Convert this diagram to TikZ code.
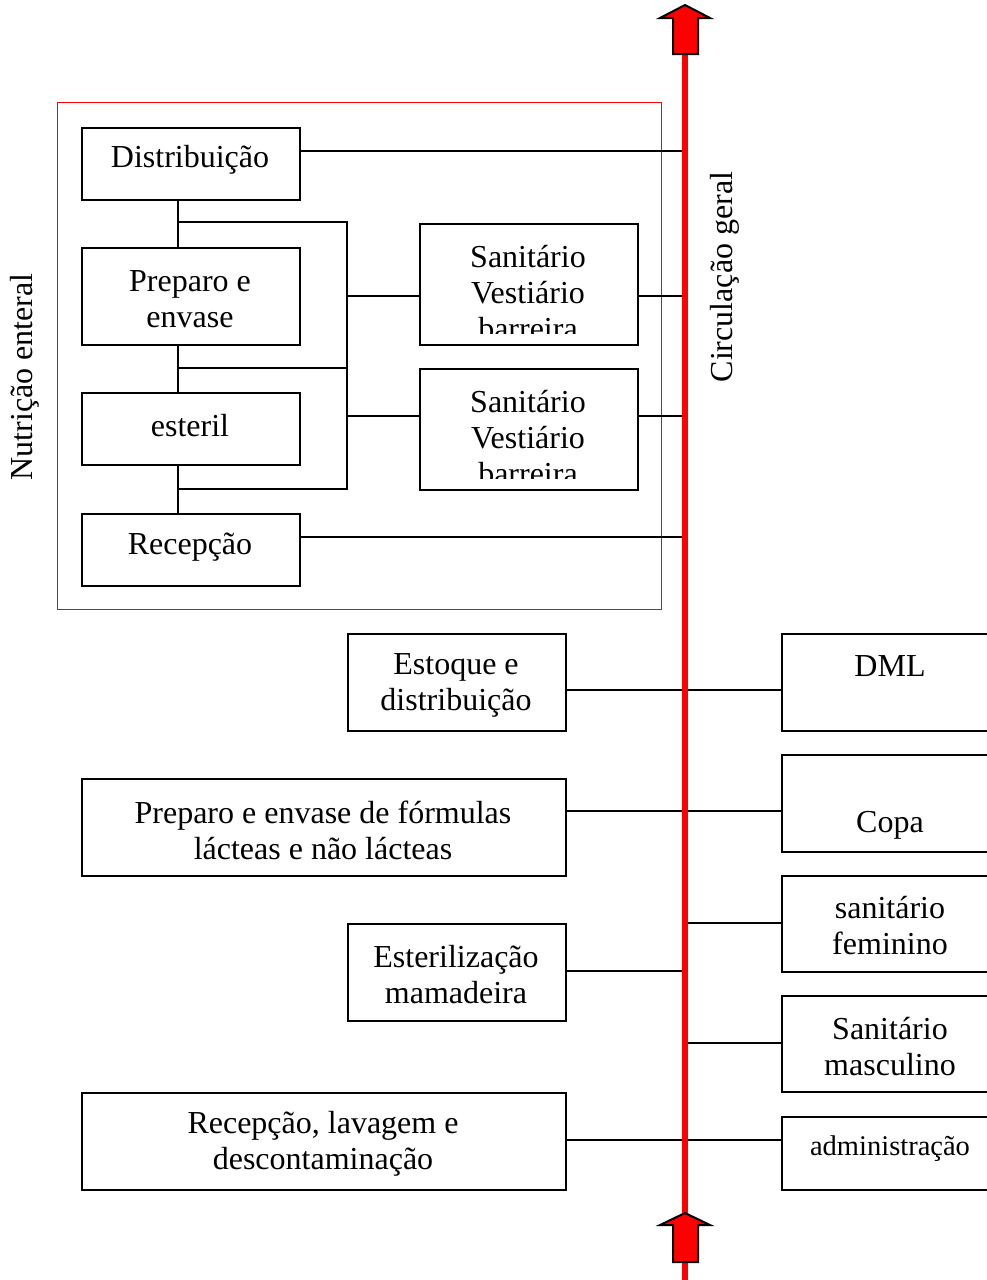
\documentclass[tikz,border=0pt]{standalone}
\usepackage{fontspec}
\setmainfont{Liberation Serif}
\begin{document}
\begin{tikzpicture}[x=1pt,y=-1pt,
  box/.style={draw=black,line width=1.8pt,inner sep=0pt,anchor=north west},
  lbl/.style={align=center,inner sep=0pt,font=\fontsize{32}{36}\selectfont},
  link/.style={draw=black,line width=2.4pt},
  flowline/.style={draw=red,line width=6pt},
  flowarrow/.style={fill=red,draw=black,line width=2pt,line join=miter}]
\useasboundingbox (0,0) rectangle (987,1280);

% enteral nutrition sector frame
\node[draw=red,line width=1.4pt,inner sep=0pt,anchor=north west,minimum width=604pt,minimum height=507pt] (sector) at (57,102) {};
\node[lbl,rotate=90] (sectorlbl) at (25,377) {Nutrição enteral};

% main circulation axis
\coordinate (axtop) at (685,54);
\coordinate (axbot) at (685,1280);
\draw[flowline] (axtop) -- (axbot);
\node[lbl,rotate=90] (axlbl) at (725,277) {Circulação geral};

% left column boxes inside the sector
\node[box,minimum width=218pt,minimum height=72pt] (dist) at (81,127) {};
\node[lbl] (distt) at (190,160) {Distribuição};
\node[box,minimum width=218pt,minimum height=97pt] (prep) at (81,247) {};
\node[lbl] (prept) at (190,299) {Preparo e\\envase};
\node[box,minimum width=218pt,minimum height=72pt] (ster) at (81,392) {};
\node[lbl] (stert) at (190,426) {esteril};
\node[box,minimum width=218pt,minimum height=72pt] (recp) at (81,513) {};
\node[lbl] (recpt) at (190,547) {Recepção};

% changing rooms
\node[box,minimum width=218pt,minimum height=121pt] (san1) at (419,223) {};
\begin{scope}
  \clip (419,223) rectangle (637,333);
  \node[lbl] (san1t) at (528,293) {Sanitário\\Vestiário\\barreira};
\end{scope}
\node[box,minimum width=218pt,minimum height=121pt] (san2) at (419,368) {};
\begin{scope}
  \clip (419,368) rectangle (637,478);
  \node[lbl] (san2t) at (528,438) {Sanitário\\Vestiário\\barreira};
\end{scope}

% lower left boxes
\node[box,minimum width=218pt,minimum height=97pt] (stock) at (347,633) {};
\node[lbl] (stockt) at (456,685) {Estoque e\\distribuição};
\node[box,minimum width=484pt,minimum height=97pt] (form) at (81,778) {};
\node[lbl] (formt) at (323,830) {Preparo e envase de fórmulas\\lácteas e não lácteas};
\node[box,minimum width=218pt,minimum height=97pt] (mama) at (347,923) {};
\node[lbl] (mamat) at (456,975) {Esterilização\\mamadeira};
\node[box,minimum width=484pt,minimum height=97pt] (wash) at (81,1092) {};
\node[lbl] (washt) at (323,1144) {Recepção, lavagem e\\descontaminação};

% right column boxes (run past the right edge)
\node[box,minimum width=218pt,minimum height=97pt] (dml) at (781,633) {};
\node[lbl] (dmlt) at (890,666) {DML};
\node[box,minimum width=218pt,minimum height=97pt] (copa) at (781,754) {};
\node[lbl] (copat) at (890,825) {Copa};
\node[box,minimum width=218pt,minimum height=96pt] (sfem) at (781,875) {};
\node[lbl] (sfemt) at (890,926) {sanitário\\feminino};
\node[box,minimum width=218pt,minimum height=96pt] (smas) at (781,995) {};
\node[lbl] (smast) at (890,1047) {Sanitário\\masculino};
\node[box,minimum width=218pt,minimum height=73pt] (adm) at (781,1116) {};
\node[lbl,font=\fontsize{28.5}{34}\selectfont] (admt) at (890,1149) {administração};

% junctions on the axis
\coordinate (a1) at (685,151);
\coordinate (a2) at (685,296);
\coordinate (a3) at (685,416);
\coordinate (a4) at (685,537);
\coordinate (a5) at (685,971);
\coordinate (a6) at (685,923);
\coordinate (a7) at (685,1043);

% internal links of the sector
\coordinate (bus) at (347,222);
\draw[link] (dist.south -| 178,0) -- (prep.north -| 178,0);
\draw[link] (prep.south -| 178,0) -- (ster.north -| 178,0);
\draw[link] (ster.south -| 178,0) -- (recp.north -| 178,0);
\draw[link] (178,222) -- (bus) -- (347,489) -- (178,489);
\draw[link] (178,368) -- (347,368);
\draw[link] (347,296) -- (san1.west |- 0,296);
\draw[link] (347,416) -- (san2.west |- 0,416);

% links to the axis
\draw[link] (dist.east |- a1) -- (a1);
\draw[link] (san1.east |- a2) -- (a2);
\draw[link] (san2.east |- a3) -- (a3);
\draw[link] (recp.east |- a4) -- (a4);
\draw[link] (stock.east |- 0,690) -- (dml.west |- 0,690);
\draw[link] (form.east |- 0,811) -- (copa.west |- 0,811);
\draw[link] (mama.east |- a5) -- (a5);
\draw[link] (a6) -- (sfem.west |- a6);
\draw[link] (a7) -- (smas.west |- a7);
\draw[link] (wash.east |- 0,1140) -- (adm.west |- 0,1140);

% redraw axis over the links
\draw[flowline] (axtop) -- (axbot);

% direction arrows
\filldraw[flowarrow] (685,5) -- (710,18) -- (698,18) -- (698,54) -- (673,54) -- (673,18) -- (660,18) -- cycle;
\filldraw[flowarrow] (685,1213) -- (710,1225) -- (698,1225) -- (698,1262) -- (673,1262) -- (673,1225) -- (660,1225) -- cycle;
\end{tikzpicture}
\end{document}
